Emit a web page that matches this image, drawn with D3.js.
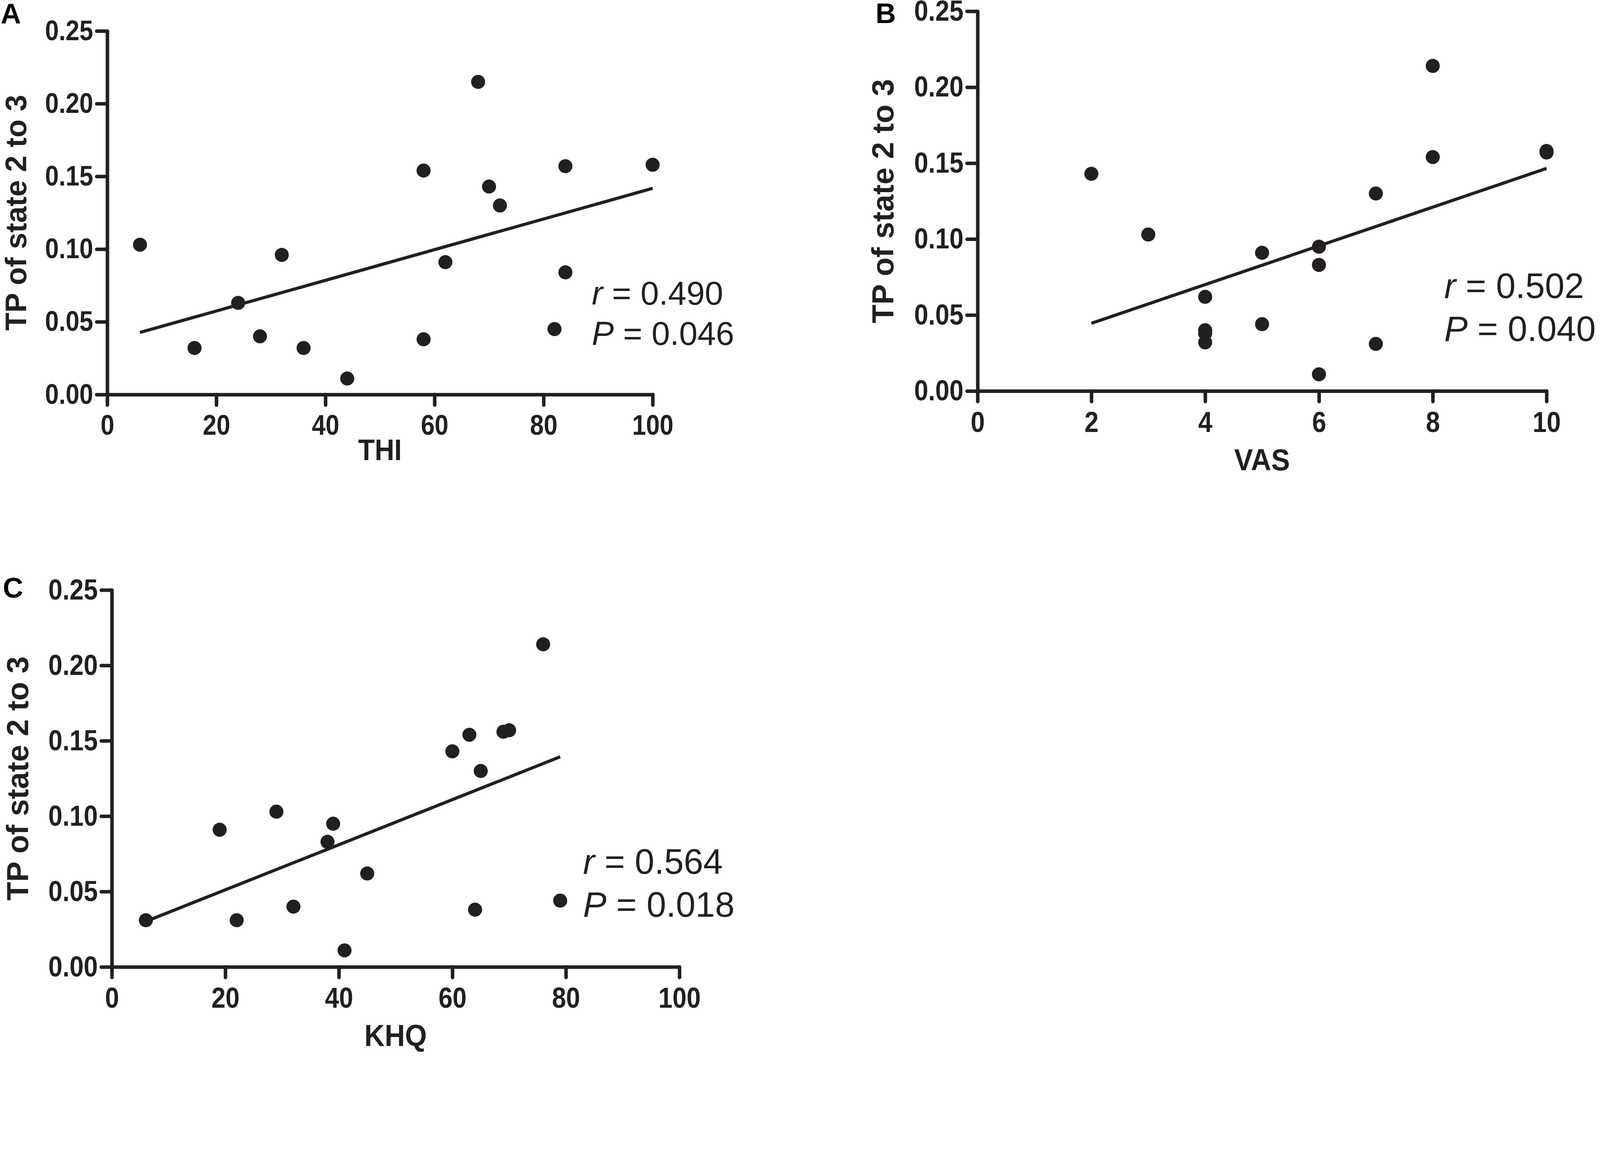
<!DOCTYPE html>
<html lang="en">
<head>
    <meta charset="UTF-8">
    <title>TP of state 2 to 3 correlations</title>
    <script src="https://cdn.jsdelivr.net/npm/d3@7"></script>
    <style>
        html, body { margin: 0; padding: 0; background: #fff; overflow: hidden; }
        svg { display: block; width: 100%; height: auto; }
        .tick text { font-family: "Liberation Sans", Arial, sans-serif; font-weight: bold; }
    </style>
</head>
<body>

<script>
    // data (17 subjects, same TP values in every panel)
    var thiScore = [6, 16, 24, 28, 32, 36, 44, 58, 58, 62, 68, 70, 72, 82, 84, 84, 100];
    var thiTP = [0.103, 0.032, 0.063, 0.040, 0.096, 0.032, 0.011, 0.154, 0.038, 0.091, 0.215, 0.143, 0.130, 0.045, 0.157, 0.084, 0.158];

    var vasScore = [2, 3, 4, 4, 4, 4, 5, 5, 6, 6, 6, 7, 7, 8, 8, 10, 10];
    var vasTP = [0.143, 0.103, 0.062, 0.040, 0.038, 0.032, 0.091, 0.044, 0.095, 0.083, 0.011, 0.130, 0.031, 0.214, 0.154, 0.157, 0.158];

    var khqScore = [6, 19, 22, 29, 32, 38, 39, 41, 45, 60, 63, 64, 65, 69, 70, 76, 79];
    var khqTP = [0.031, 0.091, 0.031, 0.103, 0.040, 0.083, 0.095, 0.011, 0.062, 0.143, 0.154, 0.038, 0.130, 0.156, 0.157, 0.214, 0.044];

    var yTicks = [0, 0.05, 0.10, 0.15, 0.20, 0.25];
    var ticks100 = [0, 20, 40, 60, 80, 100];
    var ticks10 = [0, 2, 4, 6, 8, 10];

    var panelLetters = ["A", "B", "C"];
    var xTitles = ["THI", "VAS", "KHQ"];
    var rValues = ["0.490", "0.502", "0.564"];
    var pValues = ["0.046", "0.040", "0.018"];

    var ink = "#231f20";
    var W = 4550, H = 2998;

    var svg = d3.select("body").append("svg")
        .attr("viewBox", "0 0 " + W + " " + H)
        .attr("preserveAspectRatio", "xMinYMin meet");

    // layout of each panel (pixels)
    var panels = [
        {xs: thiScore, ys: thiTP, xMax: 100, xTicks: ticks100,
            left: 305, right: 1856, top: 88, bottom: 1122, xTitleDy: 187,
            letter: [2, 67], yTitleX: 74, statX: 1683, statY: 866, tickFont: 80, titleFont: 84, statFont: 94},
        {xs: vasScore, ys: vasTP, xMax: 10, xTicks: ticks10,
            left: 2780, right: 4398, top: 32, bottom: 1112, xTitleDy: 225,
            letter: [2490, 65], yTitleX: 2540, statX: 4107, statY: 848, tickFont: 82, titleFont: 87, statFont: 100},
        {xs: khqScore, ys: khqTP, xMax: 100, xTicks: ticks100,
            left: 318, right: 1932, top: 1678, bottom: 2750, xTitleDy: 225,
            letter: [8, 1700], yTitleX: 80, statX: 1658, statY: 2485, tickFont: 82, titleFont: 87, statFont: 100}
    ];

    // squeeze a bold label a little, the figure uses a narrow face
    function narrow(sel, k) {
        sel.each(function () {
            var w = this.getComputedTextLength();
            d3.select(this)
                .attr("textLength", w * k)
                .attr("lengthAdjust", "spacingAndGlyphs");
        });
    }

    panels.forEach(function (p, i) {
        var x = d3.scaleLinear().domain([0, p.xMax]).range([p.left, p.right]);
        var y = d3.scaleLinear().domain([0, 0.25]).range([p.bottom, p.top]);

        var g = svg.append("g");

        var xAxis = d3.axisBottom(x)
            .tickValues(p.xTicks)
            .tickFormat(d3.format("d"))
            .tickSizeInner(30)
            .tickSizeOuter(0)
            .tickPadding(28);

        var yAxis = d3.axisLeft(y)
            .tickValues(yTicks)
            .tickFormat(d3.format(".2f"))
            .tickSizeInner(30)
            .tickSizeOuter(0)
            .tickPadding(10);

        var gx = g.append("g")
            .attr("transform", "translate(0," + p.bottom + ")")
            .call(xAxis);

        var gy = g.append("g")
            .attr("transform", "translate(" + p.left + ",0)")
            .call(yAxis);

        [gx, gy].forEach(function (a) {
            a.selectAll("path, line")
                .attr("stroke", ink)
                .attr("stroke-width", 10)
                .attr("stroke-linecap", "round");
            a.selectAll("text")
                .attr("font-size", p.tickFont)
                .attr("fill", ink)
                .call(narrow, 0.88);
        });

        // regression line (least squares)
        var mx = d3.mean(p.xs), my = d3.mean(p.ys);
        var sxy = d3.sum(p.xs, function (d, k) { return (d - mx) * (p.ys[k] - my); });
        var sxx = d3.sum(p.xs, function (d) { return (d - mx) * (d - mx); });
        var slope = sxy / sxx;
        var icpt = my - slope * mx;
        var fit = d3.extent(p.xs).map(function (v) { return {x: v, y: icpt + slope * v}; });

        var lineFunction = d3.line()
            .x(function (d) { return x(d.x); })
            .y(function (d) { return y(d.y); });

        g.append("path")
            .attr("d", lineFunction(fit))
            .attr("stroke", ink)
            .attr("stroke-width", 9)
            .attr("fill", "none");

        g.selectAll("circle")
            .data(p.xs)
            .enter()
            .append("circle")
            .attr("cx", function (d) { return x(d); })
            .attr("cy", function (d, k) { return y(p.ys[k]); })
            .attr("r", 20)
            .attr("fill", ink);

        // axis titles
        g.append("text")
            .attr("x", (p.left + p.right) / 2)
            .attr("y", p.bottom + p.xTitleDy)
            .attr("text-anchor", "middle")
            .attr("font-family", "Liberation Sans, Arial, sans-serif")
            .attr("font-weight", "bold")
            .attr("font-size", p.titleFont)
            .attr("fill", ink)
            .text(xTitles[i])
            .call(narrow, 0.92);

        g.append("text")
            .attr("transform", "translate(" + p.yTitleX + "," + (p.top + p.bottom) / 2 + ") rotate(-90)")
            .attr("text-anchor", "middle")
            .attr("font-family", "Liberation Sans, Arial, sans-serif")
            .attr("font-weight", "bold")
            .attr("font-size", p.titleFont)
            .attr("fill", ink)
            .text("TP of state 2 to 3");

        // panel letter
        g.append("text")
            .attr("x", p.letter[0])
            .attr("y", p.letter[1])
            .attr("font-family", "Liberation Sans, Arial, sans-serif")
            .attr("font-weight", "bold")
            .attr("font-size", 80)
            .attr("fill", "#000")
            .text(panelLetters[i]);

        // r and P
        var stats = [["r", rValues[i]], ["P", pValues[i]]];
        stats.forEach(function (s, k) {
            var t = g.append("text")
                .attr("x", p.statX)
                .attr("y", p.statY + k * p.statFont * 1.22)
                .attr("font-family", "Liberation Sans, Arial, sans-serif")
                .attr("font-size", p.statFont)
                .attr("fill", ink);
            t.append("tspan").attr("font-style", "italic").text(s[0]);
            t.append("tspan").text(" = " + s[1]);
        });
    });
</script>
</body>
</html>
